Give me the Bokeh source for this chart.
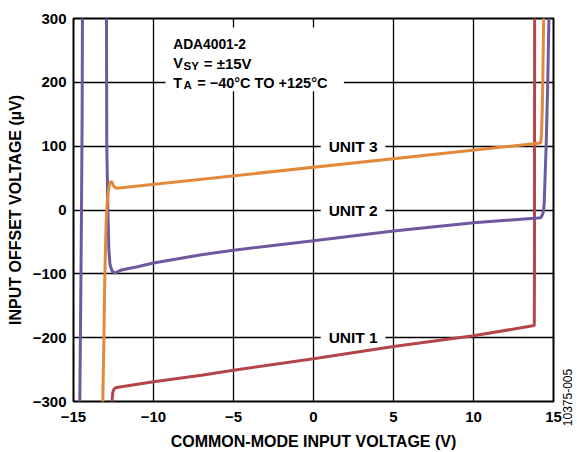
from math import pi
from bokeh.plotting import figure
from bokeh.models import Range1d, FixedTicker, Label, BoxAnnotation
from bokeh.embed import file_html
from bokeh.resources import INLINE

nan = float("nan")

# ---- data ----
x_ticks = [-15, -10, -5, 0, 5, 10, 15]
x_tick_labels = ["\u221215", "\u221210", "\u22125", "0", "5", "10", "15"]
y_ticks = [-300, -200, -100, 0, 100, 200, 300]
y_tick_labels = ["\u2212300", "\u2212200", "\u2212100", "0", "100", "200", "300"]

unit1_v = [-12.62, -12.58, -12.55, -12.5, -12.42, -12.3, -10.0, -7.0, -5.0, 0.0, 5.0, 10.0, 13.8, 13.81, 13.82]
unit1_vos = [-310, -295, -287, -282, -279.5, -278, -269, -259, -251, -233, -214, -197, -181, -100, 310]

unit2_v = [-14.61, -14.55, -14.5, -14.46, -14.44, nan,
           -12.94, -12.92, -12.85, -12.79, -12.72, -12.6, -12.42, -12.2, -12.0, -11.0, -10.0,
           -7.0, -5.0, 0.0, 5.0, 10.0, 14.0, 14.2, 14.3, 14.37, 14.42, 14.47, 14.54, 14.64, 14.72]
unit2_vos = [-310, -150, 0, 150, 310, nan,
             310, 100, 0, -62, -85, -95, -99, -96, -94, -89, -83,
             -70, -63, -48, -33, -20, -12.5, -12, -8, -2, 10, 50, 100, 200, 310]

unit3_v = [-13.2, -13.17, -13.1, -13.04, -12.96, -12.9, -12.82, -12.75, -12.66, -12.58, -12.5, -12.4, -12.3,
           14.2, 14.25, 14.3, 14.33, 14.39]
unit3_vos = [-310, -300, -200, -100, -20, 10, 30, 40, 45, 43, 38, 35, 34,
             105, 118, 160, 200, 310]

unit_names = ["UNIT 3", "UNIT 2", "UNIT 1"]
unit_label_levels = [100, 0, -200]

# ---- figure ----
p = figure(width=577, height=452, x_range=Range1d(-15, 15), y_range=Range1d(-300, 300),
           output_backend="svg", toolbar_location=None,
           min_border_left=73, min_border_right=24, min_border_top=18, min_border_bottom=50)
p.background_fill_color = "white"
p.border_fill_color = "white"
p.outline_line_color = "black"
p.outline_line_width = 2

FONT = "Liberation Sans"

p.xaxis.ticker = FixedTicker(ticks=x_ticks)
p.yaxis.ticker = FixedTicker(ticks=y_ticks)
p.xaxis.major_label_overrides = dict(zip(x_ticks, x_tick_labels))
p.yaxis.major_label_overrides = dict(zip(y_ticks, y_tick_labels))
p.axis.axis_line_color = None
p.axis.major_tick_line_color = None
p.axis.minor_tick_line_color = None
p.axis.major_tick_out = 0
p.axis.major_tick_in = 0
p.axis.major_label_text_font = FONT
p.axis.major_label_text_font_style = "bold"
p.axis.major_label_text_font_size = "15px"
p.axis.major_label_text_color = "black"
p.axis.axis_label_text_font = FONT
p.axis.axis_label_text_font_style = "bold"
p.axis.axis_label_text_font_size = "16px"
p.axis.axis_label_text_color = "black"
p.xaxis.major_label_standoff = 10
p.xaxis.axis_label_standoff = 8
p.yaxis.major_label_standoff = 7
p.yaxis.axis_label_standoff = 6
p.xaxis.axis_label = "COMMON-MODE INPUT VOLTAGE (V)"
p.yaxis.axis_label = "INPUT OFFSET VOLTAGE (\u00b5V)"

p.grid.grid_line_color = "black"
p.grid.grid_line_width = 1.3
p.grid.grid_line_alpha = 1.0

# data lines
p.line(unit1_v, unit1_vos, line_color="#B4464B", line_width=3)
p.line(unit2_v, unit2_vos, line_color="#6E589E", line_width=3)
p.line(unit3_v, unit3_vos, line_color="#E2893C", line_width=3)

# white masks over the grid where texts sit
p.add_layout(BoxAnnotation(left=-9.25, right=1.9, bottom=186, top=286,
                           fill_color="white", fill_alpha=1.0, line_alpha=0))
for yv in unit_label_levels:
    p.add_layout(BoxAnnotation(left=0.45, right=4.5, bottom=yv - 5, top=yv + 5,
                               fill_color="white", fill_alpha=1.0, line_alpha=0))

for txt, yv in zip(unit_names, unit_label_levels):
    p.add_layout(Label(x=2.48, y=yv, text=txt, text_font=FONT, text_font_style="bold",
                       text_font_size="15.5px", text_align="center", text_baseline="middle",
                       text_color="black"))

# annotation block
def lab(x, y, t, size="14.5px", bold=True):
    p.add_layout(Label(x=x, y=y, text=t, text_font=FONT, text_font_style="bold" if bold else "normal",
                       text_font_size=size, text_align="left", text_baseline="alphabetic",
                       text_color="black"))

lab(-8.77, 259, "ADA4001-2", size="13.8px")
lab(-8.77, 230, "V")
lab(-8.12, 226, "SY", size="11.5px")
lab(-6.86, 230, "= \u00b115V", size="15px")
lab(-8.77, 199.5, "T")
lab(-8.12, 195.5, "A", size="11.5px")
lab(-7.27, 199.5, "= \u221240\u00b0C TO +125\u00b0C")

# figure id in the right border panel
p.add_layout(Label(x=14, y=4, x_units="screen", y_units="screen", text="10375-005",
                   text_font=FONT, text_font_size="12px", angle=pi / 2,
                   text_align="center", text_baseline="middle", text_color="black"), "right")

open("out.html", "w").write(file_html(p, INLINE))
